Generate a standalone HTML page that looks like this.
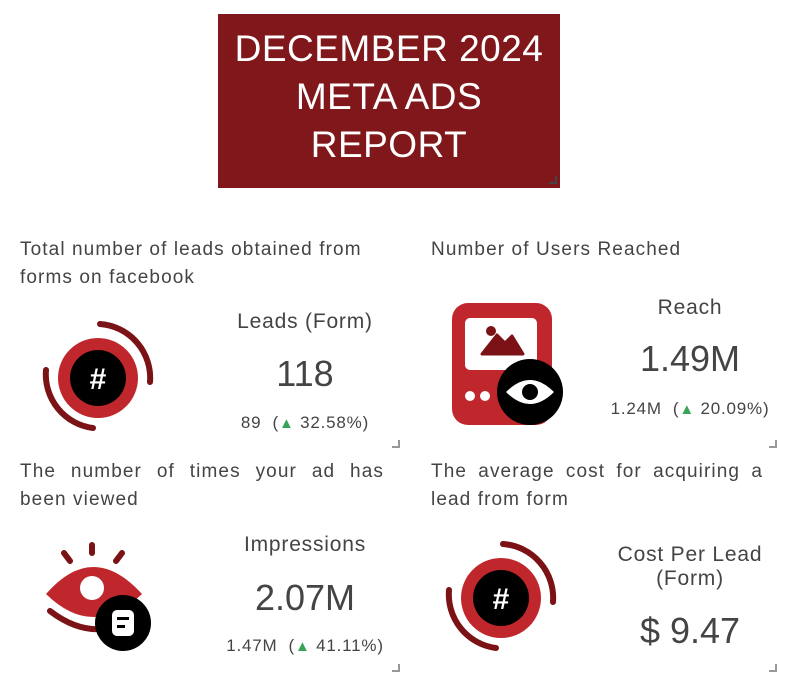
<!DOCTYPE html>
<html><head><meta charset="utf-8"><style>
body{margin:0;width:800px;height:696px;background:#fff;position:relative;overflow:hidden;font-family:"Liberation Sans",sans-serif;color:#444}
.a{position:absolute;white-space:nowrap}
.title{position:absolute;left:218px;top:14px;width:342px;height:174px;background:#80171a;color:#fff;text-align:center;font-size:37px;line-height:48px;padding-top:11px;box-sizing:border-box;letter-spacing:0.5px}
.lbl{font-size:19px;line-height:28px;color:#444;letter-spacing:1.1px}
.c{text-align:center;transform:translateX(-50%)}
.corner{position:absolute;width:6px;height:6px;border-right:2px solid #999;border-bottom:2px solid #999}
.up{color:#3aa35a;font-size:15px}
.sub{font-size:17px;letter-spacing:0.8px}
.j{text-align:justify;text-align-last:justify;white-space:normal}
</style></head><body>
<div class="title">DECEMBER 2024<br>META ADS<br>REPORT</div>
<div class="corner" style="left:549px;top:176px;border-color:#444"></div>

<div class="a lbl" style="left:20px;top:236px">Total number of leads obtained from<br>forms on facebook</div>
<div class="a lbl" style="left:431px;top:236px">Number of Users Reached</div>
<div class="a lbl j" style="left:20px;top:458px;width:364px">The number of times your ad has</div>
<div class="a lbl" style="left:20px;top:486px">been viewed</div>
<div class="a lbl j" style="left:431px;top:458px;width:332px">The average cost for acquiring a</div>
<div class="a lbl" style="left:431px;top:486px">lead from form</div>

<div class="a c" style="left:305px;top:310px;font-size:21px;letter-spacing:0.8px">Leads (Form)</div>
<div class="a c" style="left:305px;top:353px;font-size:36px">118</div>
<div class="a c sub" style="left:305px;top:413px">89&nbsp; (<span class="up">▲</span> 32.58%)</div>

<div class="a c" style="left:690px;top:296px;font-size:21px;letter-spacing:0.8px">Reach</div>
<div class="a c" style="left:690px;top:338px;font-size:36px">1.49M</div>
<div class="a c sub" style="left:690px;top:399px">1.24M&nbsp; (<span class="up">▲</span> 20.09%)</div>

<div class="a c" style="left:305px;top:533px;font-size:21px;letter-spacing:0.8px">Impressions</div>
<div class="a c" style="left:305px;top:577px;font-size:36px">2.07M</div>
<div class="a c sub" style="left:305px;top:636px">1.47M&nbsp; (<span class="up">▲</span> 41.11%)</div>

<div class="a c" style="left:690px;top:543px;font-size:21px;text-align:center;line-height:24px;letter-spacing:0.8px">Cost Per Lead<br>(Form)</div>
<div class="a c" style="left:690px;top:610px;font-size:36px">$ 9.47</div>

<div class="corner" style="left:392px;top:440px"></div>
<div class="corner" style="left:769px;top:440px"></div>
<div class="corner" style="left:392px;top:664px"></div>
<div class="corner" style="left:769px;top:664px"></div>

<svg width="800" height="696" style="position:absolute;left:0;top:0">
<g id="hash">
<circle cx="98" cy="378" r="40" fill="#c0272d"/>
<circle cx="98" cy="378" r="28" fill="#000"/>
<path d="M100 324 A54 54 0 0 1 150 382" stroke="#7a1216" stroke-width="6" fill="none" stroke-linecap="round"/>
<path d="M46 370 A54 54 0 0 0 93 428" stroke="#7a1216" stroke-width="6" fill="none" stroke-linecap="round"/>
<text x="98" y="389" text-anchor="middle" font-family="Liberation Sans" font-weight="bold" font-size="30" fill="#fff">#</text>
</g>
<use href="#hash" x="403" y="220"/>
<!-- reach -->
<rect x="452" y="303" width="100" height="122" rx="16" fill="#c0272d"/>
<rect x="465" y="318" width="72" height="52" rx="5" fill="#fff"/>
<circle cx="491" cy="331" r="5" fill="#7a1216"/>
<path d="M482 354 L497 335 L505 343 L512 336 L523 354 Z" fill="#7a1216" stroke="#7a1216" stroke-width="3" stroke-linejoin="round"/>
<circle cx="470" cy="396" r="5" fill="#fff"/><circle cx="485" cy="396" r="5" fill="#fff"/>
<circle cx="530" cy="392" r="33" fill="#000"/>
<path d="M506 392 Q530 368 554 392 Q530 416 506 392 Z" fill="#fff"/>
<circle cx="530" cy="392" r="8" fill="#000"/>
<!-- impressions -->
<line x1="92" y1="545" x2="92" y2="553" stroke="#7a1216" stroke-width="6" stroke-linecap="round"/>
<line x1="64" y1="553" x2="70" y2="561" stroke="#7a1216" stroke-width="6" stroke-linecap="round"/>
<line x1="122" y1="553" x2="116" y2="561" stroke="#7a1216" stroke-width="6" stroke-linecap="round"/>
<path d="M46 594 Q93 540 142 594 Q93 640 46 594 Z" fill="#c0272d"/>
<circle cx="92" cy="588" r="12" fill="#fff"/>
<path d="M50 611 Q80 634 110 628" stroke="#7a1216" stroke-width="6" fill="none" stroke-linecap="round"/>
<circle cx="123" cy="623" r="28" fill="#000"/>
<rect x="112" y="610" width="22" height="26" rx="5" fill="#fff"/>
<rect x="117" y="617" width="12" height="3" fill="#000"/><rect x="117" y="625" width="8" height="3" fill="#000"/>
</svg>
</body></html>
